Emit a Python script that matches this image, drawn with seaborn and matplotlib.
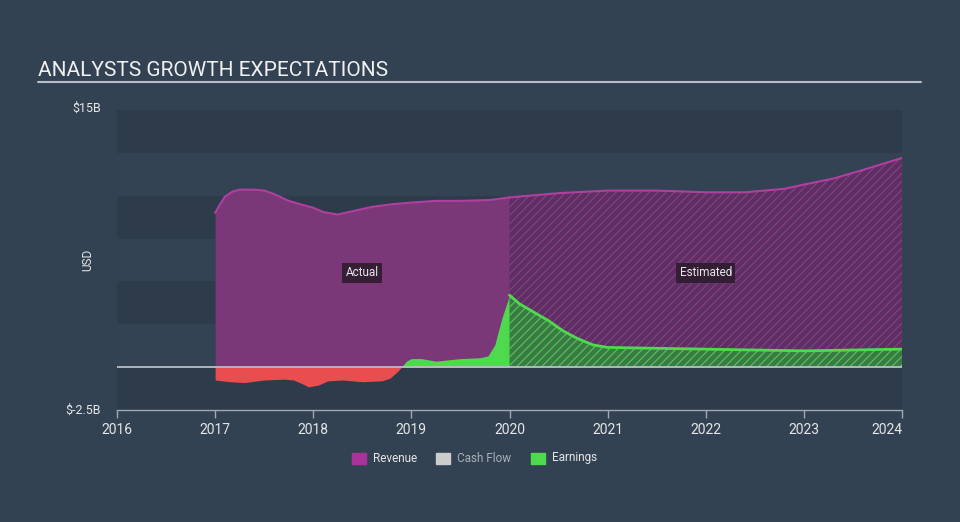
import matplotlib
matplotlib.use("Agg")
import matplotlib.pyplot as plt
import seaborn as sns
import numpy as np
import pandas as pd

# ---- data (billions USD) ----
rev_years = [2017.0, 2017.05, 2017.1, 2017.18, 2017.25, 2017.4, 2017.5, 2017.6, 2017.75, 2017.9,
             2018.0, 2018.1, 2018.25, 2018.4, 2018.6, 2018.8, 2019.0, 2019.25, 2019.5, 2019.8, 2020.0]
rev_vals = [9.0, 9.5, 9.95, 10.25, 10.35, 10.35, 10.3, 10.1, 9.7, 9.45,
            9.3, 9.05, 8.9, 9.1, 9.35, 9.5, 9.6, 9.7, 9.7, 9.75, 9.9]
rev_est_years = [2020.0, 2020.5, 2021.0, 2021.5, 2022.0, 2022.4, 2022.8, 2023.0, 2023.3, 2023.6, 2024.0]
rev_est_vals = [9.9, 10.15, 10.3, 10.3, 10.2, 10.2, 10.4, 10.65, 11.0, 11.5, 12.2]

earn_years = [2017.0, 2017.15, 2017.3, 2017.5, 2017.7, 2017.8, 2017.9, 2017.95, 2018.05, 2018.15,
              2018.3, 2018.5, 2018.7, 2018.78, 2018.85, 2018.9, 2018.95, 2019.0, 2019.1,
              2019.25, 2019.5, 2019.7, 2019.78, 2019.85, 2019.92, 2020.0]
earn_vals = [-0.75, -0.85, -0.9, -0.75, -0.7, -0.75, -1.0, -1.15, -1.05, -0.8,
             -0.75, -0.85, -0.8, -0.65, -0.3, 0.0, 0.35, 0.5, 0.5,
             0.35, 0.5, 0.55, 0.65, 1.3, 2.8, 4.2]
earn_est_years = [2020.0, 2020.1, 2020.25, 2020.4, 2020.55, 2020.7, 2020.85, 2021.0, 2021.5,
                  2022.0, 2022.5, 2023.0, 2023.5, 2024.0]
earn_est_vals = [4.2, 3.7, 3.2, 2.7, 2.1, 1.65, 1.3, 1.15, 1.1, 1.05, 1.0, 0.95, 1.0, 1.05]

x_ticks = [2016, 2017, 2018, 2019, 2020, 2021, 2022, 2023, 2024]
y_min, y_max = -2.5, 15
legend_labels = ["Revenue", "Cash Flow", "Earnings"]

# ---- style ----
BG = "#324252"
BAND_DARK = "#2d3b4a"
BAND_LIGHT = "#334353"
PURPLE_FILL = "#7a3878"
PURPLE_LINE = "#b0409f"
GREEN = "#4fd94f"
RED = "#e84e50"
TEXT = "#e6e6e6"

sns.set_theme(style="dark")
plt.rcParams['font.family'] = ['Roboto', 'DejaVu Sans']
plt.rcParams['hatch.linewidth'] = 0.8

fig = plt.figure(figsize=(9.6, 5.22), dpi=100, facecolor=BG)
ax = fig.add_axes([117/960, 1-410/522, (902-117)/960, 300/522])
ax.set_facecolor(BG)

# bands
for i, lo in enumerate(np.arange(y_min, y_max, 2.5)):
    col = BAND_DARK if (i % 2 == 0) else BAND_LIGHT
    ax.axhspan(lo, lo + 2.5, color=col, lw=0, zorder=0)

rev_df = pd.DataFrame({"year": rev_years, "value": rev_vals})
rev_est_df = pd.DataFrame({"year": rev_est_years, "value": rev_est_vals})
earn_df = pd.DataFrame({"year": earn_years, "value": earn_vals})
earn_est_df = pd.DataFrame({"year": earn_est_years, "value": earn_est_vals})

# revenue actual
ax.fill_between(rev_df.year, 0, rev_df.value, color=PURPLE_FILL, lw=0, zorder=2)
sns.lineplot(data=rev_df, x="year", y="value", ax=ax, color=PURPLE_LINE, lw=1.5, zorder=3)
# revenue estimated (hatched)
ax.fill_between(rev_est_df.year, 0, rev_est_df.value, facecolor="#5e2f63",
                edgecolor="#8a3f86", hatch="////", lw=0, zorder=2)
sns.lineplot(data=rev_est_df, x="year", y="value", ax=ax, color=PURPLE_LINE, lw=1.5, zorder=3)

# earnings actual
ey = np.array(earn_vals)
ax.fill_between(earn_df.year, 0, earn_df.value, where=ey <= 0, interpolate=True,
                color=RED, lw=0, zorder=4)
ax.fill_between(earn_df.year, 0, earn_df.value, where=ey >= 0, interpolate=True,
                color=GREEN, lw=0, zorder=4)
# earnings estimated
ax.fill_between(earn_est_df.year, 0, earn_est_df.value, facecolor="#3b7a45",
                edgecolor="#55c85a", hatch="////", lw=0, zorder=4)
sns.lineplot(data=earn_est_df, x="year", y="value", ax=ax, color=GREEN, lw=2, zorder=5)

# zero line
ax.axhline(0, color="#b8bfc6", lw=1.3, zorder=6)

# labels
for xx, txt in [(2018.5, "Actual"), (2022.0, "Estimated")]:
    ax.text(xx, 5.5, txt, color=TEXT, fontsize=8.5, ha="center", va="center", zorder=8,
            bbox=dict(boxstyle="square,pad=0.3", fc="#2a1a2c", ec="none", alpha=0.85))

ax.set_xlim(2016, 2024)
ax.set_ylim(y_min, y_max)
ax.set_xticks(x_ticks)
ax.set_xticklabels([str(t) for t in x_ticks])
for lbl in ax.get_xticklabels():
    lbl.set_color(TEXT)
    lbl.set_fontsize(10)
ax.get_xticklabels()[-1].set_ha("right")
ax.tick_params(axis="x", length=6, width=1, color="#a0a8b0", pad=3, bottom=True)
ax.set_yticks([])
ax.set_xlabel("")
ax.set_ylabel("")
for s in ["top", "left", "right"]:
    ax.spines[s].set_visible(False)
ax.spines["bottom"].set_color("#a0a8b0")
ax.spines["bottom"].set_linewidth(1)

fig.text(101/960, 1-108/522, "$15B", color=TEXT, fontsize=9, ha="right", va="center")
fig.text(101/960, 1-410/522, "$-2.5B", color=TEXT, fontsize=9, ha="right", va="center")
fig.text(88/960, 1-260/522, "USD", color=TEXT, fontsize=8.5, rotation=90, ha="center", va="center")

# title
fig.text(38/960, 1-70/522, "ANALYSTS GROWTH EXPECTATIONS", color="#f0f0f0", fontsize=15,
         ha="left", va="center")
fig.add_artist(plt.Line2D([38/960, 921/960], [1-82/522, 1-82/522], color="#b8bfc6", lw=1.5))

# legend
leg_items = [(352, "#a8339a", "Revenue", TEXT), (436, "#cccccc", "Cash Flow", "#a9b0b7"),
             (531, GREEN, "Earnings", TEXT)]
for x0, c, lab, tc in leg_items:
    fig.patches.append(plt.Rectangle((x0/960, 1-464/522), 14/960, 11/522, color=c,
                                     transform=fig.transFigure, figure=fig))
    fig.text((x0+21)/960, 1-458/522, lab, color=tc, fontsize=8.5, ha="left", va="center")

fig.savefig("out.png", dpi=100, facecolor=BG)
